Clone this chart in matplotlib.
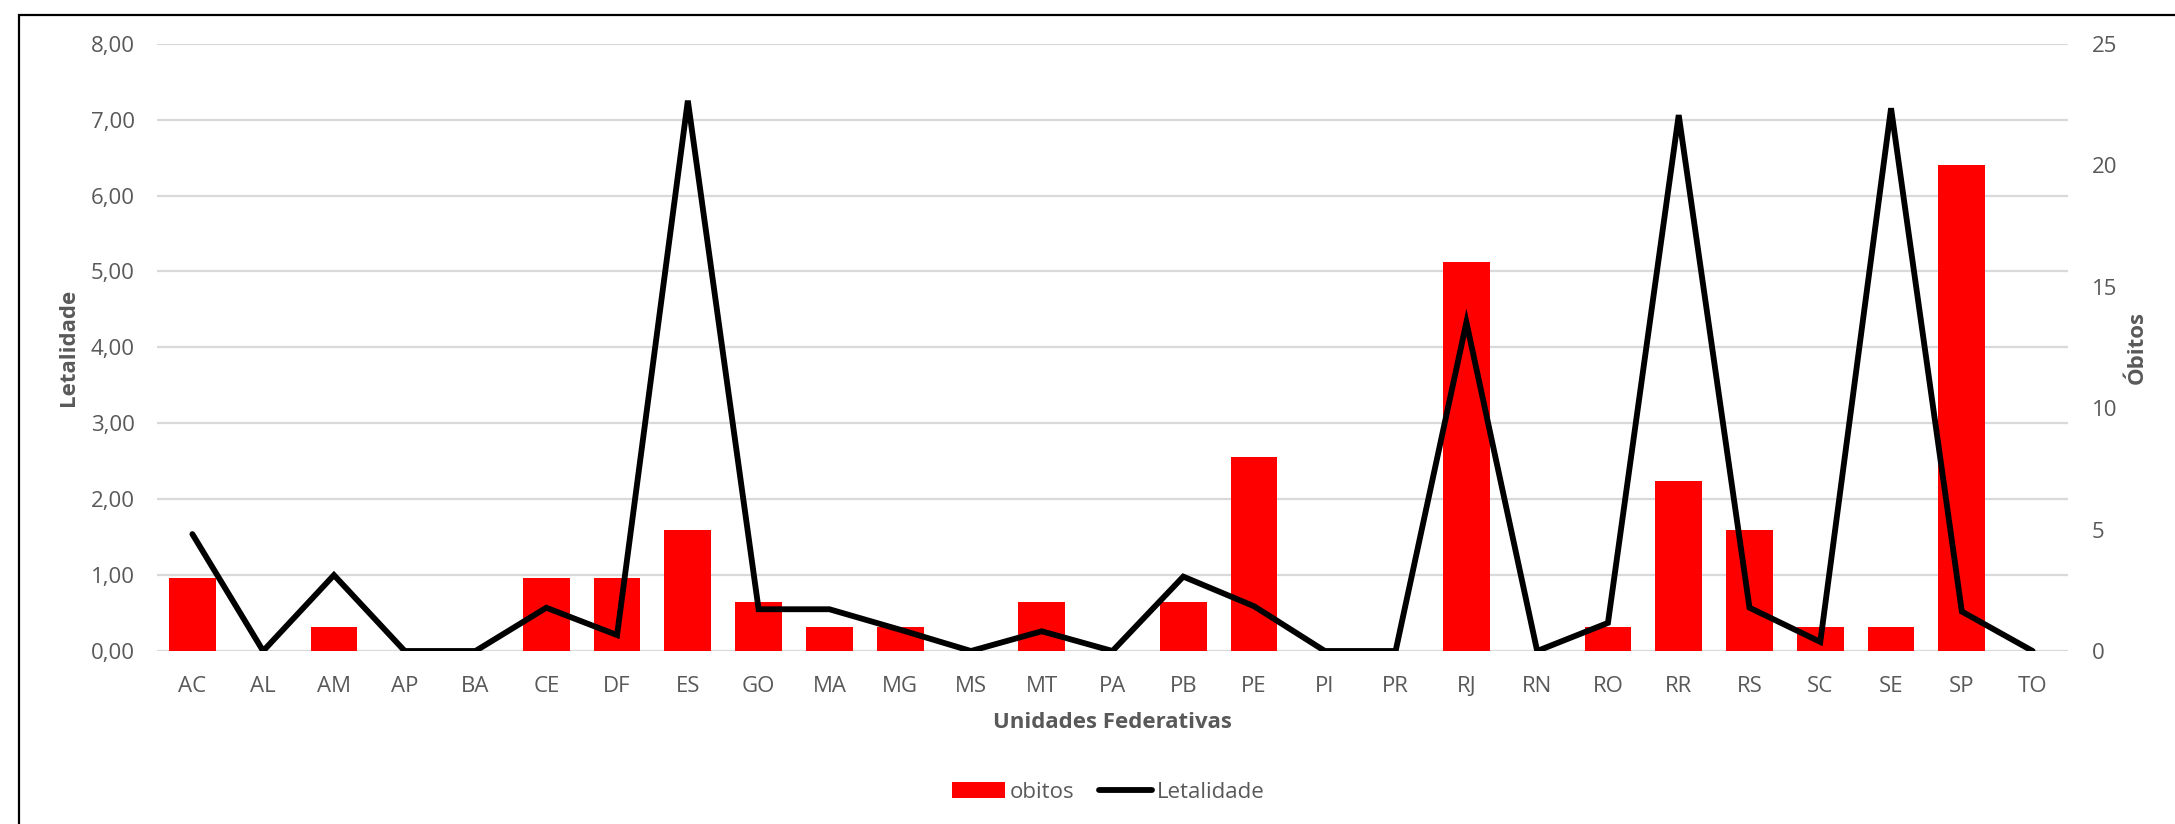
import matplotlib
matplotlib.use("Agg")
import matplotlib.pyplot as plt
from matplotlib.ticker import FuncFormatter, FixedLocator
from matplotlib.patches import Patch, Rectangle
from matplotlib.lines import Line2D

plt.rcParams['font.family'] = ['Open Sans', 'DejaVu Sans']

ufs = ["AC", "AL", "AM", "AP", "BA", "CE", "DF", "ES", "GO", "MA", "MG", "MS", "MT",
       "PA", "PB", "PE", "PI", "PR", "RJ", "RN", "RO", "RR", "RS", "SC", "SE", "SP", "TO"]
obitos = [3, 0, 1, 0, 0, 3, 3, 5, 2, 1, 1, 0, 2,
          0, 2, 8, 0, 0, 16, 0, 1, 7, 5, 1, 1, 20, 0]
letalidade = [1.54, 0.0, 1.00, 0.0, 0.0, 0.57, 0.21, 7.25, 0.55, 0.55, 0.28, 0.0, 0.26,
              0.0, 0.98, 0.59, 0.0, 0.0, 4.33, 0.0, 0.37, 7.06, 0.57, 0.12, 7.15, 0.52, 0.0]
left_ticks = [0, 1, 2, 3, 4, 5, 6, 7, 8]
right_ticks = [0, 5, 10, 15, 20, 25]

GRAY = "#595959"
GRID = "#D9D9D9"
FS = 16
LW = 4.2

W, H = 2175, 824
fig = plt.figure(figsize=(W / 100, H / 100), dpi=100)

# outer chart border (left and top visible)
fig.patches.append(Rectangle((19 / W, -0.1), 1.2, 1 - 15 / H + 0.1, transform=fig.transFigure,
                             fill=False, edgecolor="black", linewidth=1.6, zorder=0))

left, right, bottom, top = 157 / W, 2068 / W, 1 - 651 / H, 1 - 43.7 / H
ax = fig.add_axes([left, bottom, right - left, top - bottom])
ax.patch.set_visible(False)
x = list(range(len(ufs)))

# left axis: letalidade scale + gridlines
ax.set_ylim(0, 8)
ax.set_xlim(-0.5, len(ufs) - 0.5)
ax.yaxis.set_major_locator(FixedLocator(left_ticks))
ax.yaxis.set_major_formatter(FuncFormatter(lambda v, p: f"{v:.2f}".replace(".", ",")))
ax.grid(axis="y", color=GRID, linewidth=1.6)
ax.set_axisbelow(True)
ax.set_xticks(x)
ax.set_xticklabels(ufs)
ax.tick_params(axis="both", length=0, labelsize=FS, labelcolor=GRAY)
ax.tick_params(axis="x", pad=18)
ax.tick_params(axis="y", pad=16)
for s in ax.spines.values():
    s.set_visible(False)

# right axis: obitos bars
axb = ax.twinx()
axb.set_ylim(0, 25)
axb.yaxis.set_major_locator(FixedLocator(right_ticks))
axb.bar(x, obitos, width=0.66, color="#FF0000", zorder=2)
axb.tick_params(axis="y", length=0, labelsize=FS, labelcolor=GRAY, pad=17)
for s in axb.spines.values():
    s.set_visible(False)

# line on top
axl = ax.twinx()
axl.set_ylim(0, 8)
axl.set_yticks([])
for s in axl.spines.values():
    s.set_visible(False)
axl.plot(x, letalidade, color="black", linewidth=LW, solid_joinstyle="miter",
         solid_capstyle="round", zorder=3)

# axis titles
fig.text(68 / W, 1 - 347 / H, "Letalidade", rotation=90, ha="center", va="center",
         fontsize=FS, fontweight="bold", color=GRAY)
fig.text(2137 / W, 1 - 347 / H, "Óbitos", rotation=90, ha="center", va="center",
         fontsize=FS, fontweight="bold", color=GRAY)
fig.text(1112 / W, 1 - 722 / H, "Unidades Federativas", ha="center", va="center",
         fontsize=FS, fontweight="bold", color=GRAY)

handles = [Patch(facecolor="#FF0000", edgecolor="none"),
           Line2D([0], [0], color="black", linewidth=LW, solid_capstyle="round")]
fig.legend(handles, ["obitos", "Letalidade"], loc="center", bbox_to_anchor=(1108 / W, 1 - 792 / H),
           ncol=2, frameon=False, fontsize=FS, labelcolor=GRAY, handlelength=2.4,
           handletextpad=0.2, columnspacing=1.1)

fig.savefig("out.png", dpi=100)
